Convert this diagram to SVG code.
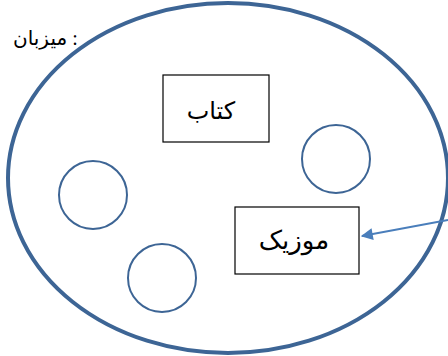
<svg xmlns="http://www.w3.org/2000/svg" width="448" height="356" viewBox="0 0 448 356">
<style>
.t{font-family:"Liberation Serif","DejaVu Sans",serif;fill:#000;}
.box{fill:#fff;stroke:#000;stroke-width:1.2;}
.circ{fill:none;stroke:#3d6595;stroke-width:2;}
</style>
<defs>
<marker id="ah" viewBox="0 0 10 10" refX="9" refY="5" markerWidth="7" markerHeight="6" orient="auto" markerUnits="strokeWidth">
<path d="M0,0 L10,5 L0,10 z" fill="#4a7ebb"/>
</marker>
</defs>
<rect width="448" height="356" fill="#fff"/>
<g id="host">
<ellipse cx="228" cy="178" rx="220" ry="175" fill="none" stroke="#3d6595" stroke-width="4"/>
</g>
<g id="label">
<text class="t" x="13" y="45" font-size="20">میزبان :</text>
</g>
<g id="book">
<rect class="box" x="163" y="75" width="106" height="67"/>
<text class="t" x="211" y="119" font-size="24" text-anchor="middle">کتاب</text>
</g>
<g id="music">
<rect class="box" x="235" y="207" width="124" height="67"/>
<text class="t" x="294" y="249" font-size="26" text-anchor="middle">موزیک</text>
</g>
<g id="c1"><circle class="circ" cx="93" cy="195" r="34"/></g>
<g id="c2"><circle class="circ" cx="162" cy="278" r="34"/></g>
<g id="c3"><circle class="circ" cx="336" cy="159" r="34"/></g>
<g id="connectors">
<line x1="448" y1="220" x2="362" y2="236" stroke="#4a7ebb" stroke-width="2" marker-end="url(#ah)"/>
</g>
</svg>
